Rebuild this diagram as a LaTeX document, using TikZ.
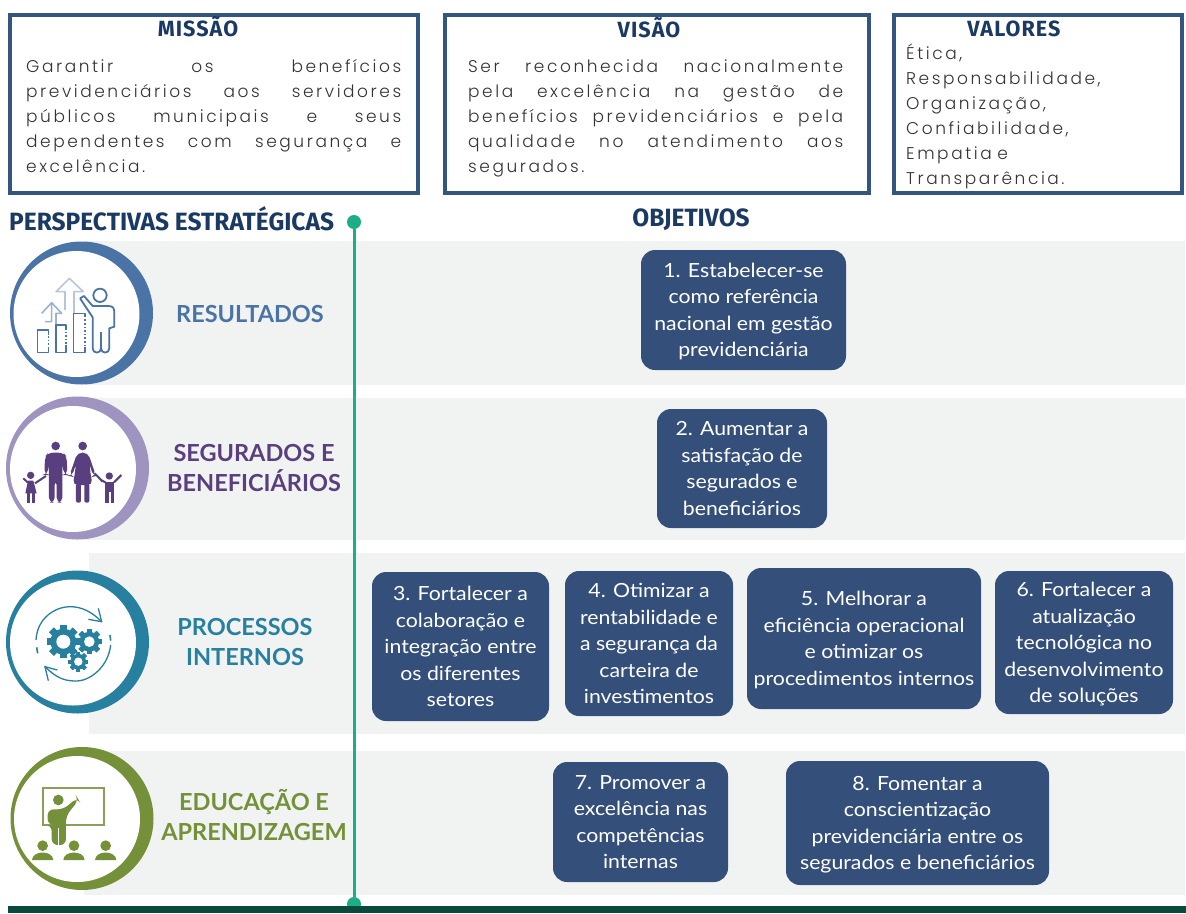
\documentclass[tikz,border=0pt]{standalone}
\usepackage{fontspec}
\setmainfont{Lato}
\newfontfamily\bodyf[LetterSpace=15,WordSpace=1.5]{Poppins Light}
\newfontfamily\objf[FakeStretch=1.09]{Lato}
\newfontfamily\headf[FakeStretch=.98]{Fira Sans}
\newfontfamily\titlef[FakeStretch=.98,LetterSpace=5]{Fira Sans}
\newfontfamily\labf{Lato}
\definecolor{navy}{HTML}{1B3A63}
\definecolor{frameb}{HTML}{34557F}
\definecolor{boxb}{HTML}{34507A}
\definecolor{band}{HTML}{F1F3F3}
\definecolor{lineg}{HTML}{1CAE85}
\definecolor{barg}{HTML}{0A4A3C}
\definecolor{cblue}{HTML}{4A73A6}
\definecolor{cpur}{HTML}{5A3F7E}
\definecolor{cring}{HTML}{9F93BF}
\definecolor{cteal}{HTML}{27809F}
\definecolor{cgreen}{HTML}{749038}
\tikzset{
  framebox/.style={draw=frameb,line width=4pt,fill=white},
  bandfill/.style={fill=band,draw=none},
  objbox/.style={fill=boxb,rounded corners=14pt,draw=none,inner sep=0pt,text=white,align=center,text depth=0pt,font=\objf\fontsize{19.5}{26.5}\selectfont},
  bodytext/.style={anchor=north west,inner sep=0pt,align=justify,text=black!80,font=\bodyf\fontsize{17}{25}\selectfont},
  toptitle/.style={text=navy,inner sep=0pt,font=\titlef\bfseries\fontsize{22}{24}\selectfont},
  headtitle/.style={text=navy,inner sep=0pt,font=\headf\bfseries\fontsize{25}{28}\selectfont},
  lab/.style={inner sep=0pt,align=center,font=\labf\bfseries\fontsize{23.5}{29.5}\selectfont},
  dotg/.style={circle,fill=lineg,inner sep=0pt,minimum size=14pt},
}
\newcommand{\ringicon}[5]{% outer x y, inner x y, colour
  \fill[#5] (#1,#2) circle[radius=71.5];
  \fill[white] (#3,#4) circle[radius=63];
}
\newcommand{\mygear}[3]{%
  \foreach \a in {0,45,...,315}{
    \fill[cteal,rotate around={\a:(#1,#2)}] ($(#1,#2)+(-0.2*#3,-#3)$) rectangle ($(#1,#2)+(0.2*#3,#3)$);
  }
  \fill[cteal] (#1,#2) circle[radius=0.78*#3];
  \fill[white] (#1,#2) circle[radius=0.42*#3];
}
\usetikzlibrary{calc,arrows.meta}
\begin{document}
\begin{tikzpicture}[x=1pt,y=-1pt]
\useasboundingbox (0,0) rectangle (1186,913);
\fill[white] (0,0) rectangle (1186,913);
% top frames
\draw[framebox] (10,15) rectangle (418,193);
\draw[framebox] (445,15) rectangle (869,193);
\draw[framebox] (894,15) rectangle (1182,193);
\node[toptitle] (tm) at (198,27) {MISSÃO};
\node[toptitle] (tv) at (649,28) {VISÃO};
\node[toptitle] (tw) at (1014,29) {VALORES};
\node[bodytext,text width=375pt] (bm) at (26,59) {Garantir os benefícios\linebreak previdenciários aos servidores\linebreak públicos municipais e seus\linebreak dependentes com segurança e\linebreak excelência.};
\node[bodytext,text width=375pt] (bv) at (468,60) {Ser reconhecida nacionalmente\linebreak pela excelência na gestão de\linebreak benefícios previdenciários e pela\linebreak qualidade no atendimento aos\linebreak segurados.};
\node[bodytext,text width=270pt,align=left] (bw) at (906,44) {Ética,\\Responsabilidade,\\Organização,\\Confiabilidade,\\Empatia e\\Transparência.};
% headings
\node[headtitle,anchor=west] (hp) at (9,218.5) {PERSPECTIVAS ESTRATÉGICAS};
\node[headtitle] (ho) at (691,220) {OBJETIVOS};
% bands
\fill[bandfill] (85,241) rectangle (1185,385);
\fill[bandfill] (85,398) rectangle (1185,540);
\fill[bandfill] (89,553) rectangle (1185,734);
\fill[bandfill] (84,751) rectangle (1185,895);
% timeline
\node[dotg] (da) at (354,222) {};
\node[dotg] (db) at (354,904) {};
\draw[lineg,line width=3pt] (da) -- (db);
\fill[barg] (8,906) rectangle (1186,913);
% rings
\ringicon{81.5}{313}{76.5}{314}{cblue}
\ringicon{77.5}{468}{73}{469}{cring}
\ringicon{77.5}{642}{73}{642.5}{cteal}
\ringicon{82}{818.5}{77}{819}{cgreen}
% icon 1
\begin{scope}[shift={(0,230)},x=.33333pt,y=-.33333pt,line join=round]
  \draw[cblue!55,line width=1.6pt] (135,275)--(155,275)--(155,270) (155,270)--(155,218) (125,250)--(155,218)--(185,250)--(168,250)--(168,285);
  \draw[cblue!40,line width=1.6pt] (195,240)--(195,185)--(168,185)--(208,145)--(250,185)--(222,185)--(222,250);
  \draw[cblue,line width=1.6pt] (145,355)--(145,368)--(113,368)--(113,300)--(145,300)--(145,315);
  \draw[cblue,line width=1.6pt] (198,300)--(198,285)--(168,285)--(168,368)--(198,368)--(198,345);
  \draw[cblue,line width=1.6pt] (255,350)--(255,368)--(220,368)--(220,250)--(255,250)--(255,262);
  \draw[cblue,line width=1.6pt,dotted] (145,318)--(145,352) (198,305)--(198,342) (255,268)--(255,345);
  \draw[cblue,line width=1.8pt] (300,196) circle[radius=20];
  \draw[cblue,line width=1.8pt] (240,205) -- (252,198) -- (278,228) -- (325,228) .. controls (340,228) and (343,235) .. (343,250) -- (343,290) -- (328,295) -- (328,355) .. controls (328,372) and (303,372) .. (303,355) .. controls (303,372) and (278,372) .. (278,355) -- (278,262) -- (240,205);
  \draw[cblue,line width=1.8pt] (303,355) -- (303,305);
\end{scope}
% icon 2
\begin{scope}[shift={(0,230)},x=.33333pt,y=-.33333pt]
  \fill[cpur] (167,648) circle[radius=13];
  \fill[cpur,rounded corners=5pt] (133,735) -- (135,680) -- (145,668) -- (190,668) -- (200,680) -- (202,735) -- (192,735) -- (187,700) -- (187,818) -- (170,818) -- (170,750) -- (164,750) -- (164,818) -- (147,818) -- (147,700) -- (142,735) -- cycle;
  \fill[cpur] (248,648) circle[radius=13];
  \fill[cpur,rounded corners=5pt] (232,668) -- (264,668) -- (288,738) -- (280,740) -- (268,700) -- (272,735) -- (278,765) -- (218,765) -- (224,735) -- (228,700) -- (216,740) -- (208,738) -- cycle;
  \fill[cpur,rounded corners=2pt] (228,760) rectangle (243,818);
  \fill[cpur,rounded corners=2pt] (253,760) rectangle (268,818);
  \draw[cpur,line width=2pt] (284,730) -- (308,755);
  \draw[cpur,line width=2pt] (138,738) -- (105,760);
  % children
  \fill[cpur] (92,736) circle[radius=11];
  \fill[cpur] (76,790) -- (84,752) -- (100,752) -- (110,790) -- cycle;
  \fill[cpur] (80,785) rectangle (90,818);
  \fill[cpur] (95,785) rectangle (105,818);
  \draw[cpur,line width=2pt] (84,758) -- (70,745);
  \fill[cpur] (328,738) circle[radius=11];
  \fill[cpur] (316,755) rectangle (342,785);
  \fill[cpur] (316,785) rectangle (326,818);
  \fill[cpur] (332,785) rectangle (342,818);
  \draw[cpur,line width=2pt] (316,757) -- (303,750);
  \draw[cpur,line width=2pt] (342,757) -- (364,735);
\end{scope}
% icon 3
\begin{scope}[shift={(0,550)},x=.33333pt,y=-.33333pt]
  \mygear{190}{275}{50}
  \mygear{268}{275}{38}
  \mygear{235}{335}{30}
  \draw[cteal,line width=1.3pt] (108,270) .. controls (112,200) and (170,170) .. (210,170) .. controls (245,170) and (275,185) .. (305,215);
  \draw[cteal,line width=1.3pt] (295,175) -- (305,215) -- (265,208);
  \draw[cteal,line width=1.3pt] (332,285) .. controls (325,350) and (270,395) .. (225,393) .. controls (190,393) and (165,380) .. (135,350);
  \draw[cteal,line width=1.3pt] (145,392) -- (135,350) -- (172,360);
  \draw[cteal,line width=1.6pt] (110,292)--(113,310) (330,255)--(332,272);
\end{scope}
% icon 4
\begin{scope}[shift={(0,550)},x=.33333pt,y=-.33333pt]
  \draw[cgreen!85,line width=1.8pt] (130,713) rectangle (313,825);
  \fill[cgreen] (175,750) circle[radius=16];
  \fill[cgreen,rounded corners=6pt] (143,778) -- (190,778) -- (232,743) -- (236,750) -- (198,798) -- (198,885) -- (155,885) -- (155,825) -- (143,825) -- cycle;
  \fill[white] (174,835) rectangle (178,887);
  \foreach \x in {128,222,317}{
    \fill[cgreen] (\x,887) circle[radius=16];
    \fill[cgreen] (\x-32,930) .. controls (\x-30,900) and (\x+30,900) .. (\x+32,930) -- cycle;
  }
\end{scope}
% labels
\node[lab,text=cblue] (l1) at (250,314) {RESULTADOS};
\node[lab,text=cpur] (l2) at (254,468) {SEGURADOS E\\BENEFICIÁRIOS};
\node[lab,text=cteal] (l3) at (245,642) {PROCESSOS\\INTERNOS};
\node[lab,text=cgreen] (l4) at (254,815) {EDUCAÇÃO E\\APRENDIZAGEM};
% objectives
\node[objbox,minimum width=205pt,minimum height=120pt] (o1) at (743.5,310) {1. Estabelecer-se\\como referência\\nacional em gestão\\previdenciária};
\node[objbox,minimum width=170pt,minimum height=119pt] (o2) at (742,468.5) {2. Aumentar a\\satisfação de\\segurados e\\beneficiários};
\node[objbox,minimum width=177pt,minimum height=149pt] (o3) at (460.5,646.5) {3. Fortalecer a\\colaboração e\\integração entre\\os diferentes\\setores};
\node[objbox,minimum width=168pt,minimum height=145pt] (o4) at (649,643.5) {4. Otimizar a\\rentabilidade e\\a segurança da\\carteira de\\investimentos};
\node[objbox,minimum width=234pt,minimum height=141pt] (o5) at (864,638.5) {5. Melhorar a\\eficiência operacional\\e otimizar os\\procedimentos internos};
\node[objbox,minimum width=178pt,minimum height=143pt] (o6) at (1084,642.5) {6. Fortalecer a\\atualização\\tecnológica no\\desenvolvimento\\de soluções};
\node[objbox,minimum width=175pt,minimum height=120pt] (o7) at (640.5,822) {7. Promover a\\excelência nas\\competências\\internas};
\node[objbox,minimum width=263pt,minimum height=124pt] (o8) at (917.5,823) {8. Fomentar a\\conscientização\\previdenciária entre os\\segurados e beneficiários};
\end{tikzpicture}
\end{document}
